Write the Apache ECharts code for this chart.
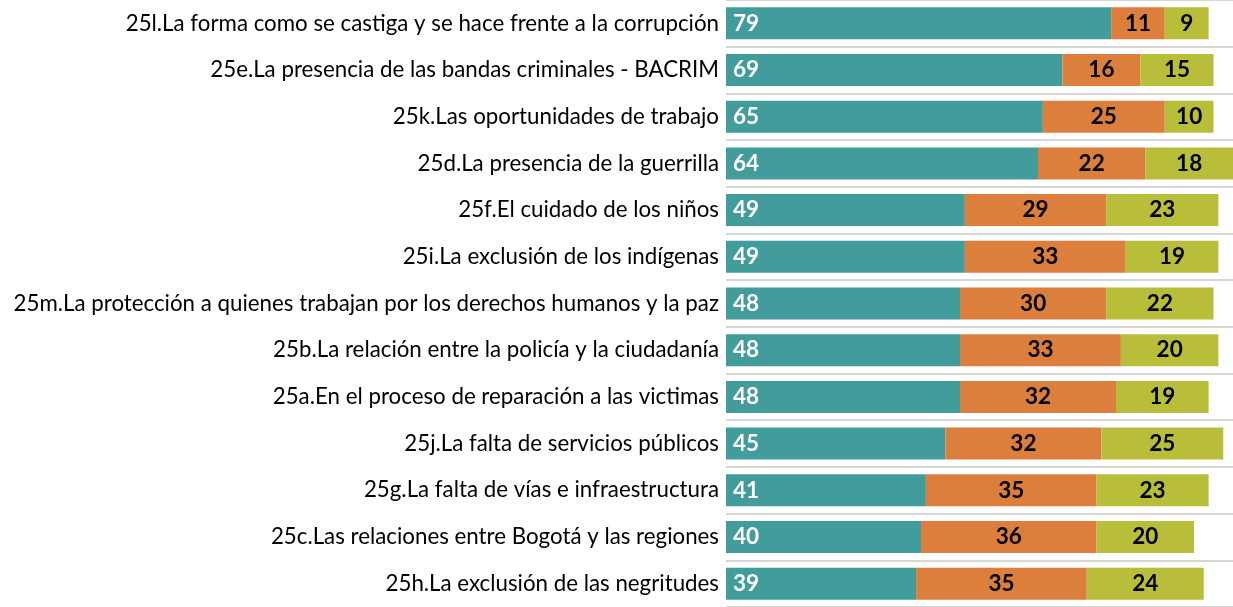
<!DOCTYPE html>
<html>
<head>
<meta charset="utf-8">
<script src="https://cdn.jsdelivr.net/npm/echarts@6/dist/echarts.min.js"></script>
<style>
  html, body { margin: 0; padding: 0; background: #fff; }
  #main { width: 1233px; height: 607px; }
</style>
</head>
<body>
<div id="main"></div>
<script>
// categorias (de arriba hacia abajo)
var categories = [
  '25l.La forma como se castiga y se hace frente a la corrupción',
  '25e.La presencia de las bandas criminales - BACRIM',
  '25k.Las oportunidades de trabajo',
  '25d.La presencia de la guerrilla',
  '25f.El cuidado de los niños',
  '25i.La exclusión de los indígenas',
  '25m.La protección a quienes trabajan por los derechos humanos y la paz',
  '25b.La relación entre la policía y la ciudadanía',
  '25a.En el proceso de reparación a las victimas',
  '25j.La falta de servicios públicos',
  '25g.La falta de vías e infraestructura',
  '25c.Las relaciones entre Bogotá y las regiones',
  '25h.La exclusión de las negritudes'
];
var serie1 = [79, 69, 65, 64, 49, 49, 48, 48, 48, 45, 41, 40, 39];
var serie2 = [11, 16, 25, 22, 29, 33, 30, 33, 32, 32, 35, 36, 35];
var serie3 = [9, 15, 10, 18, 23, 19, 22, 20, 19, 25, 23, 20, 24];

var colores = ['#429c9c', '#dc7e3c', '#b8bd3a'];
var fuente = 'Lato, "Open Sans", sans-serif';

var chart = echarts.init(document.getElementById('main'));

function serie(nombre, datos, color, labelColor, pos) {
  return {
    name: nombre,
    type: 'bar',
    stack: 'total',
    data: datos,
    barWidth: 32,
    itemStyle: { color: color },
    label: {
      show: true,
      position: pos,
      distance: 7,
      color: labelColor,
      fontFamily: fuente,
      fontWeight: 'bold',
      fontSize: 22.5
    }
  };
}

chart.setOption({
  animation: false,
  grid: { left: 726, right: 0, top: -3, height: 619 },
  xAxis: {
    type: 'value',
    min: 0,
    max: 104,
    show: false
  },
  yAxis: {
    type: 'category',
    inverse: true,
    data: categories,
    axisLine: { show: false },
    axisTick: { show: false },
    splitLine: { show: true, lineStyle: { color: '#d6d6d6', width: 2 } },
    axisLabel: {
      margin: 7,
      color: '#000',
      fontFamily: fuente,
      fontSize: 22.3
    }
  },
  series: [
    serie('s1', serie1, colores[0], '#fff', 'insideLeft'),
    serie('s2', serie2, colores[1], '#000', 'inside'),
    serie('s3', serie3, colores[2], '#000', 'inside')
  ]
});
</script>
</body>
</html>
